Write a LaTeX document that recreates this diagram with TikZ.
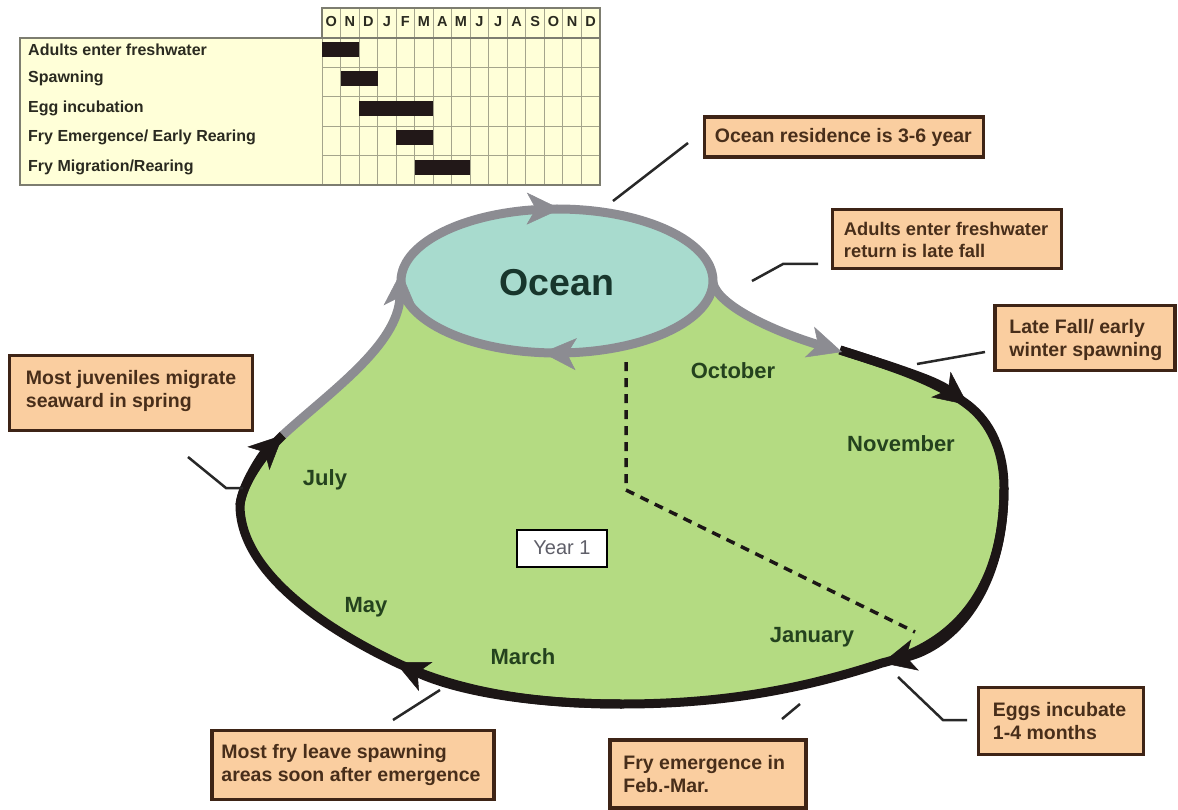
\documentclass[tikz,border=0pt]{standalone}
\usepackage{fontspec}
\setmainfont{Liberation Sans}
\usetikzlibrary{arrows.meta,decorations.markings}
\definecolor{landgreen}{RGB}{180,219,130}
\definecolor{seafill}{RGB}{168,219,206}
\definecolor{ringgray}{RGB}{140,140,146}
\definecolor{loopblack}{RGB}{28,22,22}
\definecolor{notefill}{RGB}{250,206,160}
\definecolor{noteedge}{RGB}{62,36,22}
\definecolor{notetext}{RGB}{72,46,26}
\definecolor{monthtext}{RGB}{36,66,30}
\definecolor{seatext}{RGB}{24,54,44}
\definecolor{tabfill}{RGB}{255,255,216}
\definecolor{tabedge}{RGB}{125,125,112}
\definecolor{tabgrid}{RGB}{165,165,140}
\definecolor{tabbar}{RGB}{34,24,24}
\definecolor{tabtext}{RGB}{42,42,32}
\definecolor{leader}{RGB}{40,40,40}
\definecolor{yeartext}{RGB}{95,95,105}
\begin{document}
\begin{tikzpicture}[x=1pt,y=-1pt,
  bigtip/.tip={Stealth[length=34pt,width=32pt,inset=9pt,line width=0.5pt]},
  loopline/.style={draw=loopblack,line width=9pt},
  seaward/.style={draw=ringgray,line width=9pt},
  notebox/.style={draw=noteedge,fill=notefill,line width=3.5pt,rectangle,inner sep=0pt},
  notetxt/.style={text=notetext,font=\bfseries\fontsize{19.5}{23}\selectfont,align=left,inner sep=0pt,anchor=west},
  monthlbl/.style={text=monthtext,font=\bfseries\fontsize{22}{26}\selectfont,inner sep=0pt},
  leaderline/.style={draw=leader,line width=2.5pt},
  rowlbl/.style={text=tabtext,font=\bfseries\fontsize{16}{19}\selectfont,inner sep=0pt,anchor=west},
  hdrlbl/.style={text=tabtext,font=\bfseries\fontsize{14.5}{16}\selectfont,inner sep=0pt},
  gridline/.style={draw=tabgrid,line width=0.8pt},
  tabframe/.style={draw=tabedge,line width=1.5pt},
  ganttbar/.style={fill=tabbar},
  eggpath/.style={draw=loopblack,line width=3.5pt,dash pattern=on 9pt off 7pt}
]
\useasboundingbox (0,0) rectangle (1178,810);
\fill[white] (0,0) rectangle (1178,810);

% ---------- timing table ----------
\fill[tabfill] (20,38) rectangle (600,185);
\fill[tabfill] (322,8) rectangle (600,38);
\foreach \k in {0,...,14} \draw[gridline] ({322+\k*18.53},8) -- ({322+\k*18.53},185);
\foreach \r in {1,...,4} \draw[gridline] (322,{38+\r*29.4}) -- (600,{38+\r*29.4});
\draw[tabframe] (322,38) -- (322,8) -- (600,8) -- (600,38);
\draw[tabframe] (20,38) rectangle (600,185);
\foreach \m [count=\i from 0] in {O,N,D,J,F,M,A,M,J,J,A,S,O,N,D}
  \node[hdrlbl] (hdr\i) at ({322+(\i+0.5)*18.53},22) {\m};
\foreach \r/\a/\b in {0/0/2,1/1/3,2/2/6,3/4/6,4/5/8}
  \fill[ganttbar] ({322+\a*18.53},{38+\r*29.4+4}) rectangle ({322+\b*18.53},{38+\r*29.4+19});
\foreach \t [count=\r from 0] in {Adults enter freshwater,Spawning,Egg incubation,Fry Emergence/ Early Rearing,Fry Migration/Rearing}
  \node[rowlbl] (row\r) at (28,{38+\r*29.4+11.5}) {\t};

% ---------- freshwater area ----------
\fill[landgreen] (713,283) .. controls (718,305) and (770,330) .. (840,350)
  .. controls (890,366) and (935,380) .. (968,405)
  .. controls (990,422) and (1004,450) .. (1004,488)
  .. controls (1004,592) and (952,646) .. (882,663)
  .. controls (800,690) and (720,704) .. (622,704)
  .. controls (520,704) and (450,688) .. (395,662)
  .. controls (320,626) and (240,570) .. (240,505)
  .. controls (242,485) and (262,455) .. (283,435)
  .. controls (330,392) and (398,345) .. (401,275) -- cycle;

% ---------- ocean ----------
\fill[seafill] (557,281) ellipse [x radius=156,y radius=72];
\draw[seaward,postaction={decorate},
  decoration={markings,mark=at position 0.27 with {\arrow{bigtip}},mark=at position 0.755 with {\arrow{bigtip}}}]
  (557,281) ellipse [x radius=156,y radius=72];

% ---------- freshwater loop ----------
\draw[loopline] (840,350)
  .. controls (890,366) and (935,380) .. (968,405)
  .. controls (990,422) and (1004,450) .. (1004,488)
  .. controls (1004,592) and (952,646) .. (882,663)
  .. controls (800,690) and (720,704) .. (622,704)
  .. controls (520,704) and (450,688) .. (395,662)
  .. controls (320,626) and (240,570) .. (240,505)
  .. controls (242,485) and (262,455) .. (283,435);
\draw[loopline,-{bigtip}] (840,350) .. controls (890,366) and (935,380) .. (968,405);
\draw[loopline,-{bigtip}] (1004,488) .. controls (1004,592) and (952,646) .. (882,663);
\draw[loopline,-{bigtip}] (622,704) .. controls (520,704) and (450,688) .. (395,662);
\draw[loopline,-{bigtip}] (240,505) .. controls (242,485) and (262,455) .. (283,435);

% ---------- migration paths to and from the ocean ----------
\draw[seaward,-{bigtip}] (713,283) .. controls (718,305) and (770,330) .. (842,352);
\draw[seaward,-{bigtip}] (283,435) .. controls (330,392) and (398,345) .. (401,272);

% ---------- egg incubation trace ----------
\coordinate (egtop) at (626,362);
\coordinate (egbend) at (626,490);
\coordinate (egend) at (915,632);
\draw[eggpath] (egtop) -- (egbend) -- (egend);

% ---------- labels inside ----------
\node[text=seatext,font=\bfseries\fontsize{37.5}{40}\selectfont,inner sep=0pt] (ocean) at (557,283) {Ocean};
\node[monthlbl] (oct) at (733,371) {October};
\node[monthlbl] (nov) at (901,444) {November};
\node[monthlbl] (jul) at (325,480) {July};
\node[monthlbl] (may) at (366,607) {May};
\node[monthlbl] (mar) at (523,657) {March};
\node[monthlbl] (jan) at (812,637) {January};
\node[draw=black,line width=2pt,fill=white,minimum width=90pt,minimum height=37pt,inner sep=0pt,
  text=yeartext,font=\fontsize{20}{24}\selectfont] (year) at (562,548) {Year 1};

% ---------- note boxes ----------
\node[notebox,minimum width=279pt,minimum height=40pt] (bres) at (844,137) {};
\node[notetxt] (tres) at ([xshift=12pt]bres.west) {Ocean residence is 3-6 year};

\node[notebox,minimum width=229pt,minimum height=59pt] (bret) at (947,239) {};
\node[notetxt,font=\bfseries\fontsize{18.3}{22}\selectfont] (tret) at ([xshift=13pt,yshift=-1pt]bret.west) {Adults enter freshwater\\return is late fall};

\node[notebox,minimum width=180pt,minimum height=65pt] (bspn) at (1085,338) {};
\node[notetxt] (tspn) at ([xshift=16pt,yshift=-2pt]bspn.west) {Late Fall/ early\\winter spawning};

\node[notebox,minimum width=243pt,minimum height=75pt] (bjuv) at (131,393) {};
\node[notetxt] (tjuv) at ([xshift=18pt,yshift=2pt]bjuv.west) {Most juveniles migrate\\seaward in spring};

\node[notebox,minimum width=282pt,minimum height=69pt] (bfry) at (353,765) {};
\node[notetxt] (tfry) at ([xshift=11pt]bfry.west) {Most fry leave spawning\\areas soon after emergence};

\node[notebox,minimum width=196pt,minimum height=68pt] (bemg) at (708,774) {};
\node[notetxt] (temg) at ([xshift=15pt]bemg.west) {Fry emergence in\\Feb.-Mar.};

\node[notebox,minimum width=165pt,minimum height=67pt] (begg) at (1061,721) {};
\node[notetxt] (tegg) at ([xshift=16pt]begg.west) {Eggs incubate\\1-4 months};

% ---------- leader lines ----------
\coordinate (l1a) at (613,201); \coordinate (l1b) at (688,143);
\draw[leaderline] (l1a) -- (l1b);
\coordinate (l2a) at (752,281); \coordinate (l2b) at (783,264); \coordinate (l2c) at (818,264);
\draw[leaderline] (l2a) -- (l2b) -- (l2c);
\coordinate (l3a) at (917,364); \coordinate (l3b) at (985,352);
\draw[leaderline] (l3a) -- (l3b);
\coordinate (l4a) at (188,457); \coordinate (l4b) at (226,488); \coordinate (l4c) at (243,488);
\draw[leaderline] (l4a) -- (l4b) -- (l4c);
\coordinate (l5a) at (393,720); \coordinate (l5b) at (440,690);
\draw[leaderline] (l5a) -- (l5b);
\coordinate (l6a) at (782,719); \coordinate (l6b) at (800,704);
\draw[leaderline] (l6a) -- (l6b);
\coordinate (l7a) at (898,677); \coordinate (l7b) at (943,720); \coordinate (l7c) at (967,720);
\draw[leaderline] (l7a) -- (l7b) -- (l7c);
\end{tikzpicture}
\end{document}
